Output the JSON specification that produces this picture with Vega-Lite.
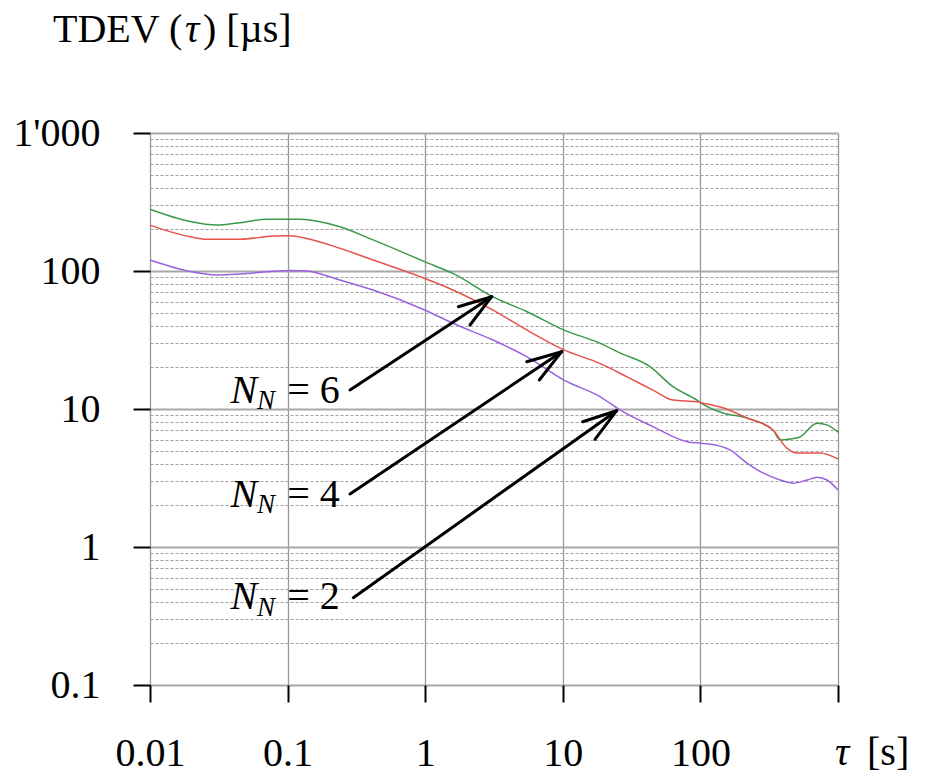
{
  "$schema": "https://vega.github.io/schema/vega-lite/v6.json",
  "width": 688,
  "height": 552,
  "autosize": {"type": "none"},
  "padding": {"left": 150, "top": 133, "right": 94, "bottom": 91},
  "background": "white",
  "config": {"view": {"stroke": null}, "font": "Liberation Serif"},
  "datasets": {
    "series": [
      {"tau": 0.01, "tdev": 280, "nn": 6},
      {"tau": 0.0196, "tdev": 228, "nn": 6},
      {"tau": 0.0306, "tdev": 215, "nn": 6},
      {"tau": 0.0451, "tdev": 224, "nn": 6},
      {"tau": 0.0705, "tdev": 237, "nn": 6},
      {"tau": 0.123, "tdev": 237, "nn": 6},
      {"tau": 0.24, "tdev": 209, "nn": 6},
      {"tau": 0.418, "tdev": 168, "nn": 6},
      {"tau": 1.03, "tdev": 115, "nn": 6},
      {"tau": 1.59, "tdev": 96, "nn": 6},
      {"tau": 3.11, "tdev": 65, "nn": 6},
      {"tau": 5.5, "tdev": 50.7, "nn": 6},
      {"tau": 10.2, "tdev": 37.3, "nn": 6},
      {"tau": 18.6, "tdev": 30, "nn": 6},
      {"tau": 26, "tdev": 25.5, "nn": 6},
      {"tau": 43, "tdev": 20.3, "nn": 6},
      {"tau": 63.2, "tdev": 14.5, "nn": 6},
      {"tau": 94.4, "tdev": 11.6, "nn": 6},
      {"tau": 102, "tdev": 11, "nn": 6},
      {"tau": 146, "tdev": 9.35, "nn": 6},
      {"tau": 218, "tdev": 8.6, "nn": 6},
      {"tau": 337, "tdev": 7.05, "nn": 6},
      {"tau": 379, "tdev": 5.96, "nn": 6},
      {"tau": 448, "tdev": 6.06, "nn": 6},
      {"tau": 529, "tdev": 6.27, "nn": 6},
      {"tau": 703, "tdev": 7.9, "nn": 6},
      {"tau": 832, "tdev": 7.67, "nn": 6},
      {"tau": 1000, "tdev": 6.8, "nn": 6},
      {"tau": 0.01, "tdev": 215, "nn": 4},
      {"tau": 0.0196, "tdev": 177, "nn": 4},
      {"tau": 0.0258, "tdev": 170, "nn": 4},
      {"tau": 0.0451, "tdev": 170, "nn": 4},
      {"tau": 0.0783, "tdev": 179, "nn": 4},
      {"tau": 0.104, "tdev": 180, "nn": 4},
      {"tau": 0.138, "tdev": 172, "nn": 4},
      {"tau": 0.24, "tdev": 146, "nn": 4},
      {"tau": 0.418, "tdev": 120, "nn": 4},
      {"tau": 0.916, "tdev": 91, "nn": 4},
      {"tau": 1.59, "tdev": 72.8, "nn": 4},
      {"tau": 3.11, "tdev": 52, "nn": 4},
      {"tau": 5.5, "tdev": 37.3, "nn": 4},
      {"tau": 10.2, "tdev": 26.8, "nn": 4},
      {"tau": 18.6, "tdev": 21.4, "nn": 4},
      {"tau": 29.3, "tdev": 17.1, "nn": 4},
      {"tau": 45.2, "tdev": 13.7, "nn": 4},
      {"tau": 63.2, "tdev": 11.6, "nn": 4},
      {"tau": 94.4, "tdev": 11.3, "nn": 4},
      {"tau": 102, "tdev": 11.1, "nn": 4},
      {"tau": 146, "tdev": 10.2, "nn": 4},
      {"tau": 218, "tdev": 8.6, "nn": 4},
      {"tau": 337, "tdev": 7.05, "nn": 4},
      {"tau": 425, "tdev": 5.2, "nn": 4},
      {"tau": 503, "tdev": 4.8, "nn": 4},
      {"tau": 740, "tdev": 4.8, "nn": 4},
      {"tau": 1000, "tdev": 4.34, "nn": 4},
      {"tau": 0.01, "tdev": 120, "nn": 2},
      {"tau": 0.0196, "tdev": 99, "nn": 2},
      {"tau": 0.0306, "tdev": 93.6, "nn": 2},
      {"tau": 0.0451, "tdev": 95, "nn": 2},
      {"tau": 0.104, "tdev": 101, "nn": 2},
      {"tau": 0.138, "tdev": 100, "nn": 2},
      {"tau": 0.24, "tdev": 86, "nn": 2},
      {"tau": 0.418, "tdev": 72.8, "nn": 2},
      {"tau": 1.0, "tdev": 52, "nn": 2},
      {"tau": 1.59, "tdev": 41.8, "nn": 2},
      {"tau": 3.11, "tdev": 31.6, "nn": 2},
      {"tau": 5.5, "tdev": 23.9, "nn": 2},
      {"tau": 10.2, "tdev": 16.2, "nn": 2},
      {"tau": 18.6, "tdev": 12.3, "nn": 2},
      {"tau": 26, "tdev": 9.85, "nn": 2},
      {"tau": 45.2, "tdev": 7.45, "nn": 2},
      {"tau": 80, "tdev": 5.8, "nn": 2},
      {"tau": 102, "tdev": 5.64, "nn": 2},
      {"tau": 126, "tdev": 5.5, "nn": 2},
      {"tau": 164, "tdev": 5.05, "nn": 2},
      {"tau": 218, "tdev": 4.06, "nn": 2},
      {"tau": 285, "tdev": 3.44, "nn": 2},
      {"tau": 379, "tdev": 3.06, "nn": 2},
      {"tau": 471, "tdev": 2.9, "nn": 2},
      {"tau": 596, "tdev": 3.06, "nn": 2},
      {"tau": 703, "tdev": 3.2, "nn": 2},
      {"tau": 832, "tdev": 3.06, "nn": 2},
      {"tau": 1000, "tdev": 2.59, "nn": 2}
    ],
    "arrows": [
      {"tau": 0.2842, "tdev": 13.73, "tau2": 3.043, "tdev2": 65.14},
      {"tau": 3.043, "tdev": 65.14, "tau2": 1.74, "tdev2": 55.13},
      {"tau": 3.043, "tdev": 65.14, "tau2": 2.116, "tdev2": 40.62},
      {"tau": 0.2842, "tdev": 2.422, "tau2": 9.817, "tdev2": 26.02},
      {"tau": 9.817, "tdev": 26.02, "tau2": 5.467, "tdev2": 22.02},
      {"tau": 9.817, "tdev": 26.02, "tau2": 6.748, "tdev2": 16.22},
      {"tau": 0.3003, "tdev": 0.4291, "tau2": 24.64, "tdev2": 9.72},
      {"tau": 24.64, "tdev": 9.72, "tau2": 13.95, "tdev2": 8.09},
      {"tau": 24.64, "tdev": 9.72, "tau2": 17.14, "tdev2": 6.03}
    ],
    "labelN": [
      {"tau": 0.0385, "tdev": 11.1, "text": "N"},
      {"tau": 0.0385, "tdev": 1.96, "text": "N"},
      {"tau": 0.0385, "tdev": 0.354, "text": "N"}
    ],
    "labelSub": [
      {"tau": 0.0599, "tdev": 9.95, "text": "N"},
      {"tau": 0.0599, "tdev": 1.75, "text": "N"},
      {"tau": 0.0599, "tdev": 0.316, "text": "N"}
    ],
    "labelEq": [
      {"tau": 0.0995, "tdev": 11.1, "text": "= 6"},
      {"tau": 0.0995, "tdev": 1.96, "text": "= 4"},
      {"tau": 0.0995, "tdev": 0.354, "text": "= 2"}
    ],
    "titleRegular": [
      {"tau": 0.001972, "tdev": 4587, "text": "TDEV ("},
      {"tau": 0.02428, "tdev": 4587, "text": ") [µs]"},
      {"tau": 1625, "tdev": 0.02632, "text": "[s]"}
    ],
    "titleItalic": [
      {"tau": 0.01796, "tdev": 4587, "text": "τ"},
      {"tau": 951, "tdev": 0.02632, "text": "τ"}
    ]
  },
  "layer": [
    {
      "data": {"name": "series"},
      "mark": {"type": "line", "strokeWidth": 1.5, "interpolate": "monotone"},
      "encoding": {
        "x": {
          "field": "tau", "type": "quantitative",
          "scale": {"type": "log", "domain": [0.01, 1000], "nice": false},
          "axis": {
            "values": [0.01, 0.1, 1, 10, 100, 1000],
            "grid": true, "gridColor": "#999999", "gridWidth": 1.3,
            "domain": false,
            "ticks": true, "tickColor": "black", "tickWidth": 2, "tickSize": 17,
            "labelExpr": "datum.value == 1000 ? '' : datum.value == 0.01 ? '0.01' : datum.value == 0.1 ? '0.1' : datum.value == 1 ? '1' : datum.value == 10 ? '10' : '100'",
            "labelFont": "Liberation Serif", "labelFontSize": 40, "labelColor": "black",
            "labelPadding": 31, "labelFlush": false, "labelOverlap": false,
            "title": null
          }
        },
        "y": {
          "field": "tdev", "type": "quantitative",
          "scale": {"type": "log", "domain": [0.1, 1000], "nice": false},
          "axis": {
            "values": [0.1, 0.2, 0.3, 0.4, 0.5, 0.6, 0.7, 0.8, 0.9, 1, 2, 3, 4, 5, 6, 7, 8, 9, 10, 20, 30, 40, 50, 60, 70, 80, 90, 100, 200, 300, 400, 500, 600, 700, 800, 900, 1000],
            "grid": true,
            "gridColor": {"condition": {"test": "indexof([0.1, 1, 10, 100, 1000], datum.value) >= 0", "value": "#a8a8a8"}, "value": "#a0a0a0"},
            "gridDash": {"condition": {"test": "indexof([0.1, 1, 10, 100, 1000], datum.value) >= 0", "value": []}, "value": [3, 2]},
            "gridWidth": {"condition": {"test": "indexof([0.1, 1, 10, 100, 1000], datum.value) >= 0", "value": 1.8}, "value": 1},
            "domain": false,
            "ticks": true, "tickColor": "black", "tickWidth": 2, "tickSize": 17,
            "tickOpacity": {"condition": {"test": "indexof([0.1, 1, 10, 100, 1000], datum.value) >= 0", "value": 1}, "value": 0},
            "labelExpr": "datum.value == 1000 ? \"1'000\" : datum.value == 100 ? '100' : datum.value == 10 ? '10' : datum.value == 1 ? '1' : datum.value == 0.1 ? '0.1' : ''",
            "labelFont": "Liberation Serif", "labelFontSize": 40, "labelColor": "black",
            "labelPadding": 33, "labelFlush": false, "labelOverlap": false,
            "title": null
          }
        },
        "color": {
          "field": "nn", "type": "nominal",
          "scale": {"domain": [6, 4, 2], "range": ["#3a9a4c", "#e8524a", "#9a63de"]},
          "legend": null
        },
        "detail": {"field": "nn"}
      }
    },
    {
      "mark": {"type": "rule", "color": "black", "strokeWidth": 3.5},
      "encoding": {
        "x": {"datum": 0.01, "type": "quantitative"},
        "y": {"datum": 0.1, "type": "quantitative"},
        "y2": {"datum": 2421}
      }
    },
    {
      "mark": {"type": "rule", "color": "black", "strokeWidth": 3.5},
      "encoding": {
        "x": {"datum": 0.01, "type": "quantitative"},
        "x2": {"datum": 2020},
        "y": {"datum": 0.1, "type": "quantitative"}
      }
    },
    {
      "mark": {"type": "point", "shape": "M0,-1L0.656,1L-0.656,1Z", "filled": true, "size": 1024, "color": "black", "opacity": 1, "strokeWidth": 0},
      "encoding": {
        "x": {"datum": 0.01, "type": "quantitative"},
        "y": {"datum": 2462, "type": "quantitative"}
      }
    },
    {
      "mark": {"type": "point", "shape": "M1,0L-1,0.656L-1,-0.656Z", "filled": true, "size": 1024, "color": "black", "opacity": 1, "strokeWidth": 0},
      "encoding": {
        "x": {"datum": 2468, "type": "quantitative"},
        "y": {"datum": 0.1, "type": "quantitative"}
      }
    },
    {
      "data": {"name": "arrows"},
      "mark": {"type": "rule", "color": "black", "strokeWidth": 3, "strokeCap": "round"},
      "encoding": {
        "x": {"field": "tau", "type": "quantitative"},
        "y": {"field": "tdev", "type": "quantitative"},
        "x2": {"field": "tau2"},
        "y2": {"field": "tdev2"}
      }
    },
    {
      "data": {"name": "labelN"},
      "mark": {"type": "text", "font": "Liberation Serif", "fontSize": 40, "fontStyle": "italic", "align": "left", "baseline": "alphabetic", "color": "black"},
      "encoding": {
        "x": {"field": "tau", "type": "quantitative"},
        "y": {"field": "tdev", "type": "quantitative"},
        "text": {"field": "text"}
      }
    },
    {
      "data": {"name": "labelSub"},
      "mark": {"type": "text", "font": "Liberation Serif", "fontSize": 27, "fontStyle": "italic", "align": "left", "baseline": "alphabetic", "color": "black"},
      "encoding": {
        "x": {"field": "tau", "type": "quantitative"},
        "y": {"field": "tdev", "type": "quantitative"},
        "text": {"field": "text"}
      }
    },
    {
      "data": {"name": "labelEq"},
      "mark": {"type": "text", "font": "Liberation Serif", "fontSize": 40, "align": "left", "baseline": "alphabetic", "color": "black"},
      "encoding": {
        "x": {"field": "tau", "type": "quantitative"},
        "y": {"field": "tdev", "type": "quantitative"},
        "text": {"field": "text"}
      }
    },
    {
      "data": {"name": "titleRegular"},
      "mark": {"type": "text", "font": "Liberation Serif", "fontSize": 40, "align": "left", "baseline": "alphabetic", "color": "black"},
      "encoding": {
        "x": {"field": "tau", "type": "quantitative"},
        "y": {"field": "tdev", "type": "quantitative"},
        "text": {"field": "text"}
      }
    },
    {
      "data": {"name": "titleItalic"},
      "mark": {"type": "text", "font": "Liberation Serif", "fontSize": 40, "fontStyle": "italic", "align": "left", "baseline": "alphabetic", "color": "black"},
      "encoding": {
        "x": {"field": "tau", "type": "quantitative"},
        "y": {"field": "tdev", "type": "quantitative"},
        "text": {"field": "text"}
      }
    }
  ]
}
